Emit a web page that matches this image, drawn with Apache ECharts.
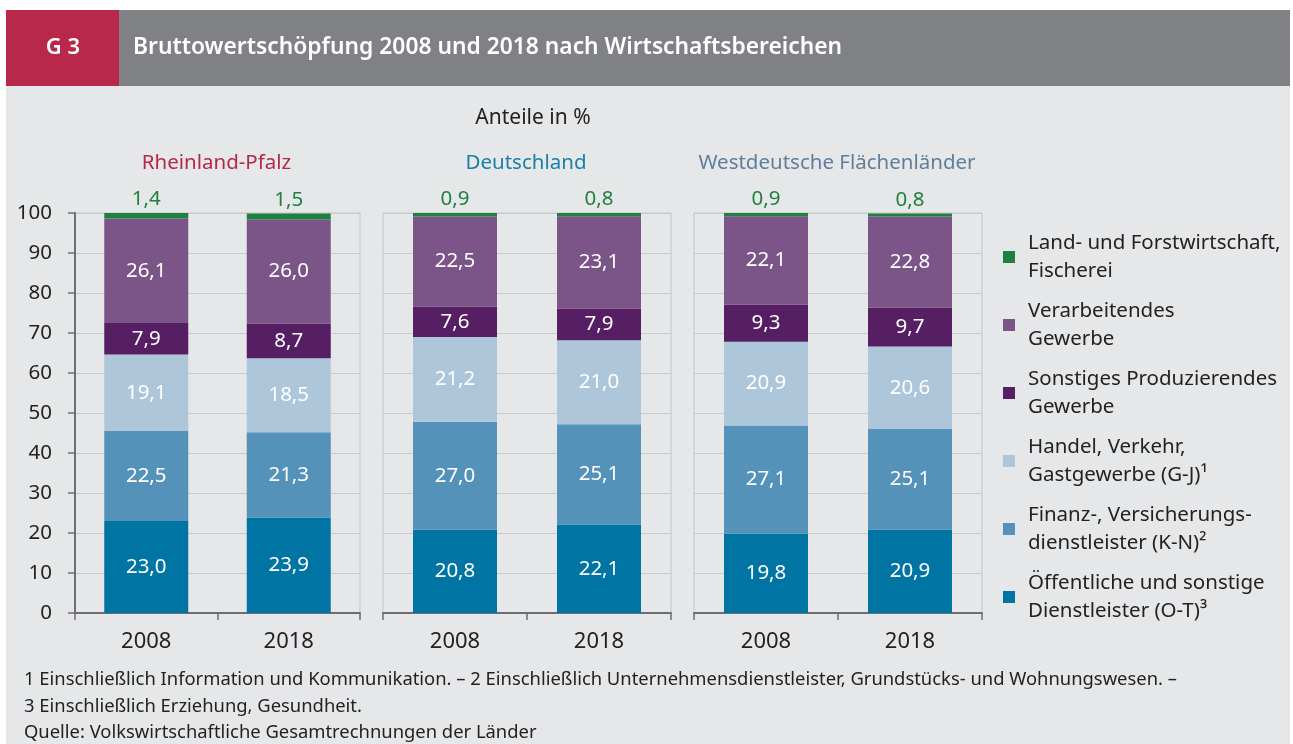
<!DOCTYPE html>
<html>
<head>
<meta charset="utf-8">
<script src="https://cdn.jsdelivr.net/npm/echarts@6/dist/echarts.min.js"></script>
<style>
  html, body { margin: 0; padding: 0; background: #ffffff; }
  #chart { width: 1293px; height: 744px; }
</style>
</head>
<body>
<div id="chart"></div>
<script>
// data
const years = ['2008', '2018'];
const regions = ['Rheinland-Pfalz', 'Deutschland', 'Westdeutsche Flächenländer'];
const regionColors = ['#b5284a', '#1a80a8', '#5e7f9b'];

// one pair [2008, 2018] per region, stacked bottom to top
const oeffentlich = [[23.0, 23.9], [20.8, 22.1], [19.8, 20.9]];
const finanz      = [[22.5, 21.3], [27.0, 25.1], [27.1, 25.1]];
const handel      = [[19.1, 18.5], [21.2, 21.0], [20.9, 20.6]];
const sonstiges   = [[7.9, 8.7],   [7.6, 7.9],   [9.3, 9.7]];
const verarb      = [[26.1, 26.0], [22.5, 23.1], [22.1, 22.8]];
const land        = [[1.4, 1.5],   [0.9, 0.8],   [0.9, 0.8]];

const sectors = [
  { name: 'Öffentliche und sonstige\nDienstleister (O-T)³', data: oeffentlich, color: '#0075a3' },
  { name: 'Finanz-, Versicherungs-\ndienstleister (K-N)²', data: finanz, color: '#5592ba' },
  { name: 'Handel, Verkehr,\nGastgewerbe (G-J)¹', data: handel, color: '#adc6da' },
  { name: 'Sonstiges Produzierendes\nGewerbe', data: sonstiges, color: '#561f63' },
  { name: 'Verarbeitendes\nGewerbe', data: verarb, color: '#7b5488' },
  { name: 'Land- und Forstwirtschaft,\nFischerei', data: land, color: '#1f8140' }
];

const yTicks = [0, 100, 10]; // min, max, step

const footnotes = [
  '1 Einschließlich Information und Kommunikation. – 2 Einschließlich Unternehmensdienstleister, Grundstücks- und Wohnungswesen. –',
  '3 Einschließlich Erziehung, Gesundheit.',
  'Quelle: Volkswirtschaftliche Gesamtrechnungen der Länder'
];

const FONT = 'Noto Sans';
const fmt = v => v.toFixed(1).replace('.', ',');

// layout of the three panels
const panels = [
  { left: 75, width: 285 },
  { left: 383, width: 288 },
  { left: 694, width: 288 }
];
const gridTop = 213, gridHeight = 400;

const grids = panels.map(p => ({
  left: p.left, top: gridTop, width: p.width, height: gridHeight,
  show: true, borderColor: '#c4c5c7', borderWidth: 1, backgroundColor: 'transparent'
}));

const xAxes = panels.map((p, i) => ({
  type: 'category', gridIndex: i, data: years,
  axisLine: { lineStyle: { color: '#6d6e71', width: 2 } },
  axisTick: { show: true, length: 7, lineStyle: { color: '#6d6e71', width: 1.5 } },
  axisLabel: { fontFamily: FONT, fontSize: 22, color: '#222', margin: 18 }
}));

const yAxes = panels.map((p, i) => ({
  type: 'value', gridIndex: i, min: yTicks[0], max: yTicks[1], interval: yTicks[2],
  axisLine: { show: i === 0, lineStyle: { color: '#6d6e71', width: 2 } },
  axisTick: { show: i === 0, length: 7, lineStyle: { color: '#6d6e71', width: 1.5 } },
  axisLabel: { show: i === 0, fontFamily: FONT, fontSize: 20.5, color: '#222', margin: 23 },
  splitLine: { show: true, lineStyle: { color: '#c9cacc', width: 1 } }
}));

const series = [];
regions.forEach((r, i) => {
  sectors.forEach((s, k) => {
    const top = k === sectors.length - 1;
    series.push({
      type: 'bar', name: s.name, stack: 'r' + i,
      xAxisIndex: i, yAxisIndex: i,
      barWidth: 84,
      data: s.data[i],
      itemStyle: { color: s.color },
      label: {
        show: true,
        position: top ? 'top' : 'inside',
        distance: 3,
        formatter: p => fmt(p.value),
        fontFamily: FONT, fontSize: 20.5,
        color: top ? '#1f8140' : '#ffffff'
      },
      emphasis: { disabled: true }
    });
  });
});

const graphics = [
  { type: 'rect', shape: { x: 6, y: 86, width: 1284, height: 660 }, style: { fill: '#e6e7e9' }, z: -10 },
  { type: 'rect', shape: { x: 6, y: 10, width: 113, height: 76 }, style: { fill: '#b8284a' } },
  { type: 'rect', shape: { x: 119, y: 10, width: 1171, height: 76 }, style: { fill: '#808184' } },
  { type: 'text', x: 63, y: 48, style: { text: 'G 3', fill: '#fff', font: '600 22px "' + FONT + '"', align: 'center', verticalAlign: 'middle' } },
  { type: 'text', x: 133, y: 48, style: { text: 'Bruttowertschöpfung 2008 und 2018 nach Wirtschaftsbereichen', fill: '#fff', font: '600 22.8px "' + FONT + '"', verticalAlign: 'middle' } },
  { type: 'text', x: 533, y: 118, style: { text: 'Anteile in %', fill: '#222', font: '21px "' + FONT + '"', align: 'center', verticalAlign: 'middle' } }
];
regions.forEach((r, i) => {
  graphics.push({
    type: 'text', x: panels[i].left + panels[i].width / 2 - 1, y: 163,
    style: { text: r, fill: regionColors[i], font: '20.5px "' + FONT + '"', align: 'center', verticalAlign: 'middle' }
  });
});
footnotes.forEach((t, i) => {
  graphics.push({
    type: 'text', x: 24, y: 680 + i * 26.5,
    style: { text: t, fill: '#222', font: '18.4px "' + FONT + '"', verticalAlign: 'middle' }
  });
});

const chart = echarts.init(document.getElementById('chart'));
chart.setOption({
  backgroundColor: '#ffffff',
  animation: false,
  textStyle: { fontFamily: FONT },
  grid: grids,
  xAxis: xAxes,
  yAxis: yAxes,
  legend: {
    orient: 'vertical', left: 1003, top: 215, padding: 0,
    itemWidth: 12, itemHeight: 12, itemGap: -16, icon: 'rect',
    selectedMode: false,
    data: sectors.map(s => s.name).reverse(),
    textStyle: { fontFamily: FONT, fontSize: 20.5, color: '#222', lineHeight: 28, padding: [28, 0, 0, 8] }
  },
  graphic: graphics,
  series: series
});
</script>
</body>
</html>
